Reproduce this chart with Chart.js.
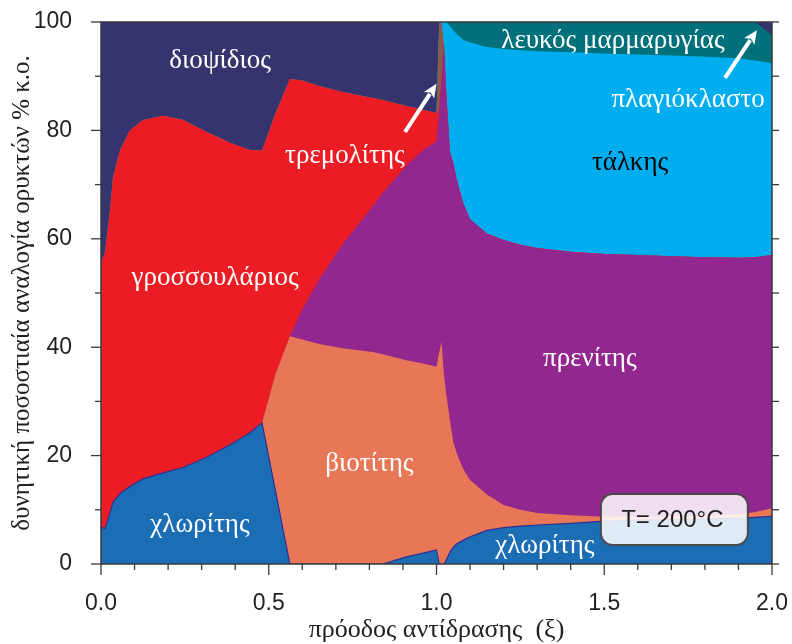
<!DOCTYPE html>
<html>
<head>
<meta charset="utf-8">
<script src="https://cdn.jsdelivr.net/npm/chart.js@4.4.1/dist/chart.umd.min.js"></script>
<style>
  html, body { margin: 0; padding: 0; background: #fff; }
</style>
</head>
<body>
<canvas id="chart" width="792" height="644"></canvas>
<script>
// reaction progress (xi)
const progress = [0, 0.012, 0.027, 0.036, 0.057, 0.086, 0.125, 0.185, 0.245, 0.315, 0.385, 0.444, 0.48, 0.52, 0.563, 0.6, 0.65, 0.72, 0.81, 0.84, 0.91, 0.96, 1.0, 1.008, 1.015, 1.022, 1.03, 1.04, 1.05, 1.06, 1.08, 1.1, 1.15, 1.2, 1.25, 1.3, 1.4, 1.5, 1.6, 1.7, 1.8, 1.9, 1.95, 2.0];

// cumulative upper edge of each mineral band (vol %), bottom to top
const chloriteTop = [6.8, 6.5, 9.5, 11.4, 13.0, 14.3, 15.7, 16.8, 17.8, 19.7, 22.0, 24.2, 26.0, 13.5, 0, 0, 0, 0, 0, 0, 1.3, 2.0, 2.6, 0, 0, 0, 0.8, 2.2, 3.1, 3.7, 4.4, 5.0, 6.2, 6.7, 7.0, 7.2, 7.5, 7.9, 8.1, 8.2, 8.3, 8.4, 8.6, 8.8];
const biotiteTop = [6.8, 6.5, 9.5, 11.4, 13.0, 14.3, 15.7, 16.8, 17.8, 19.7, 22.0, 24.2, 26.0, 35, 42, 41.4, 40.6, 39.8, 39.1, 38.7, 37.6, 37.0, 36.4, 39, 41, 35, 31, 26.5, 22.5, 20.5, 17.5, 15.5, 12.8, 10.9, 10.0, 9.4, 9.0, 8.7, 8.7, 8.8, 8.9, 9.2, 9.6, 10.3];
const prehniteTop = [6.8, 6.5, 9.5, 11.4, 13.0, 14.3, 15.7, 16.8, 17.8, 19.7, 22.0, 24.2, 26.0, 35, 42, 47, 52.5, 59, 66, 68.5, 73.5, 76.4, 78, 84, 89, 96, 86, 76, 74, 71, 66.5, 63.6, 61, 59.8, 58.9, 58.3, 57.6, 57.2, 57.0, 56.8, 56.6, 56.5, 56.6, 57.0];
const grossularTop = [55.5, 57.5, 65.3, 71.4, 76.4, 80, 81.9, 82.7, 81.9, 79.7, 77.7, 76.4, 76.3, 83.1, 89.5, 89.2, 88.2, 87.1, 86.0, 85.6, 84.5, 83.8, 83.2, 84, 89, 96, 86, 76, 74, 71, 66.5, 63.6, 61, 59.8, 58.9, 58.3, 57.6, 57.2, 57.0, 56.8, 56.6, 56.5, 56.6, 57.0];
const tremoliteTop = [55.5, 57.5, 65.3, 71.4, 76.4, 80, 81.9, 82.7, 81.9, 79.7, 77.7, 76.4, 76.3, 83.1, 89.5, 89.2, 88.2, 87.1, 86.0, 85.6, 84.5, 83.8, 83.2, 100, 100, 96, 86, 76, 74, 71, 66.5, 63.6, 61, 59.8, 58.9, 58.3, 57.6, 57.2, 57.0, 56.8, 56.6, 56.5, 56.6, 57.0];
const talcTop = [55.5, 57.5, 65.3, 71.4, 76.4, 80, 81.9, 82.7, 81.9, 79.7, 77.7, 76.4, 76.3, 83.1, 89.5, 89.2, 88.2, 87.1, 86.0, 85.6, 84.5, 83.8, 83.2, 100, 100, 100, 100, 99.2, 98.5, 97.8, 96.7, 96.2, 95.4, 95.0, 94.8, 94.6, 94.4, 94.2, 94.0, 93.8, 93.6, 93.3, 92.9, 92.4];
const muscoviteTop = [55.5, 57.5, 65.3, 71.4, 76.4, 80, 81.9, 82.7, 81.9, 79.7, 77.7, 76.4, 76.3, 83.1, 89.5, 89.2, 88.2, 87.1, 86.0, 85.6, 84.5, 83.8, 83.2, 100, 100, 100, 100, 100, 100, 100, 100, 100, 100, 100, 100, 100, 100, 100, 100, 100, 100, 100, 100, 97.6];
const plagioclaseTop = [55.5, 57.5, 65.3, 71.4, 76.4, 80, 81.9, 82.7, 81.9, 79.7, 77.7, 76.4, 76.3, 83.1, 89.5, 89.2, 88.2, 87.1, 86.0, 85.6, 84.5, 83.8, 83.2, 100, 100, 100, 100, 100, 100, 100, 100, 100, 100, 100, 100, 100, 100, 100, 100, 100, 100, 100, 100, 100];
const diopsideTop = [100, 100, 100, 100, 100, 100, 100, 100, 100, 100, 100, 100, 100, 100, 100, 100, 100, 100, 100, 100, 100, 100, 100, 100, 100, 100, 100, 100, 100, 100, 100, 100, 100, 100, 100, 100, 100, 100, 100, 100, 100, 100, 100, 100];

const xTicks = [0, 0.5, 1.0, 1.5, 2.0];
const yTicks = [0, 20, 40, 60, 80, 100];

const layers = [
  { name: "χλωρίτης", top: chloriteTop, color: "#1b6db4", line: "#2e3192" },
  { name: "βιοτίτης", top: biotiteTop, color: "#e77756" },
  { name: "πρενίτης", top: prehniteTop, color: "#92278f" },
  { name: "γροσσουλάριος", top: grossularTop, color: "#ec1c24" },
  { name: "τρεμολίτης", top: tremoliteTop, color: "#8c5a46" },
  { name: "τάλκης", top: talcTop, color: "#00aeef" },
  { name: "λευκός μαρμαρυγίας", top: muscoviteTop, color: "#00707a" },
  { name: "πλαγιόκλαστο", top: plagioclaseTop, color: "#36346e" },
  { name: "διοψίδιος", top: diopsideTop, color: "#36346e" },
];

// text labels placed in data units
const areaLabels = [
  { text: "διοψίδιος", x: 0.355, y: 93.0, color: "#fff" },
  { text: "τρεμολίτης", x: 0.727, y: 75.5, color: "#fff" },
  { text: "γροσσουλάριος", x: 0.34, y: 53, color: "#fff" },
  { text: "βιοτίτης", x: 0.80, y: 18.6, color: "#fff" },
  { text: "χλωρίτης", x: 0.295, y: 7.4, color: "#fff" },
  { text: "χλωρίτης", x: 1.323, y: 3.5, color: "#fff" },
  { text: "πρενίτης", x: 1.457, y: 38, color: "#fff" },
  { text: "τάλκης", x: 1.577, y: 74.2, color: "#000" },
  { text: "λευκός μαρμαρυγίας", x: 1.526, y: 96.7, color: "#fff" },
  { text: "πλαγιόκλαστο", x: 1.75, y: 85.8, color: "#fff" },
];
const arrows = [
  [0.906, 79.7, 1.0, 88.6],
  [1.86, 89.7, 1.955, 98.5],
];

function drawArrow(ctx, x1, y1, x2, y2) {
  const ang = Math.atan2(y2 - y1, x2 - x1);
  const head = 15;
  ctx.strokeStyle = "#fff";
  ctx.fillStyle = "#fff";
  ctx.lineWidth = 4;
  ctx.beginPath();
  ctx.moveTo(x1, y1);
  ctx.lineTo(x2 - Math.cos(ang) * head * 0.8, y2 - Math.sin(ang) * head * 0.8);
  ctx.stroke();
  ctx.beginPath();
  ctx.moveTo(x2, y2);
  ctx.lineTo(x2 - Math.cos(ang - 0.42) * head, y2 - Math.sin(ang - 0.42) * head);
  ctx.lineTo(x2 - Math.cos(ang) * head * 0.7, y2 - Math.sin(ang) * head * 0.7);
  ctx.lineTo(x2 - Math.cos(ang + 0.42) * head, y2 - Math.sin(ang + 0.42) * head);
  ctx.closePath();
  ctx.fill();
}

function roundRectPath(ctx, x, y, w, h, r) {
  ctx.beginPath();
  ctx.moveTo(x + r, y);
  ctx.arcTo(x + w, y, x + w, y + h, r);
  ctx.arcTo(x + w, y + h, x, y + h, r);
  ctx.arcTo(x, y + h, x, y, r);
  ctx.arcTo(x, y, x + w, y, r);
  ctx.closePath();
}

const overlay = {
  id: "overlay",
  afterDatasetsDraw(chart) {
    const { ctx, chartArea: a, scales: { x, y } } = chart;
    ctx.save();

    // frame
    ctx.strokeStyle = "#3a3a3a";
    ctx.lineWidth = 1.5;
    ctx.strokeRect(a.left, a.top, a.right - a.left, a.bottom - a.top);

    // tick marks
    ctx.lineWidth = 1.3;
    for (let i = 0; i <= 20; i++) {
      const px = x.getPixelForValue(i / 10);
      const len = i % 5 === 0 ? 11 : 6;
      ctx.beginPath(); ctx.moveTo(px, a.bottom); ctx.lineTo(px, a.bottom + len); ctx.stroke();
    }
    for (let i = 0; i <= 10; i++) {
      const py = y.getPixelForValue(i * 10);
      const len = i % 2 === 0 ? 10 : 6;
      ctx.beginPath(); ctx.moveTo(a.left, py); ctx.lineTo(a.left - len, py); ctx.stroke();
      ctx.beginPath(); ctx.moveTo(a.right, py); ctx.lineTo(a.right + 7, py); ctx.stroke();
    }

    // labels
    ctx.font = '27px "Liberation Serif"';
    ctx.textAlign = "center";
    ctx.textBaseline = "middle";
    areaLabels.forEach((l) => {
      ctx.fillStyle = l.color;
      ctx.fillText(l.text, x.getPixelForValue(l.x), y.getPixelForValue(l.y) + 1);
    });

    arrows.forEach((ar) => drawArrow(ctx,
      x.getPixelForValue(ar[0]), y.getPixelForValue(ar[1]),
      x.getPixelForValue(ar[2]), y.getPixelForValue(ar[3])));

    // temperature box
    const bx1 = x.getPixelForValue(1.49), bx2 = x.getPixelForValue(1.928);
    const by1 = y.getPixelForValue(12.9), by2 = y.getPixelForValue(3.5);
    roundRectPath(ctx, bx1, by1, bx2 - bx1, by2 - by1, 12);
    ctx.fillStyle = "rgba(255,255,255,0.86)";
    ctx.fill();
    ctx.strokeStyle = "#4a4a4a";
    ctx.lineWidth = 2;
    ctx.stroke();
    ctx.fillStyle = "#1e1e1e";
    ctx.font = '24px "Liberation Sans"';
    ctx.fillText("T= 200°C", (bx1 + bx2) / 2 - 2, (by1 + by2) / 2 + 1);

    ctx.restore();
  },
};

const datasets = layers.map((l) => ({
  label: l.name,
  data: progress.map((p, j) => ({ x: p, y: l.top[j] })),
  backgroundColor: l.color,
  borderColor: l.line || "rgba(0,0,0,0)",
  borderWidth: l.line ? 1.2 : 0,
  fill: "origin",
  pointRadius: 0,
  tension: 0,
}));

new Chart(document.getElementById("chart"), {
  type: "line",
  data: { datasets },
  options: {
    responsive: false,
    animation: false,
    events: [],
    layout: { padding: { top: 22, right: 20, left: 0, bottom: 0 } },
    plugins: { legend: { display: false }, tooltip: { enabled: false } },
    scales: {
      x: {
        type: "linear",
        min: 0,
        max: 2,
        afterFit: (s) => { s.height = 80; s.paddingLeft = 0; s.paddingRight = 0; },
        afterBuildTicks: (s) => { s.ticks = xTicks.map((v) => ({ value: v })); },
        grid: { display: false },
        border: { display: false },
        ticks: {
          maxRotation: 0,
          autoSkip: false,
          padding: 18,
          color: "#222",
          font: { family: "Liberation Sans", size: 23 },
          callback: (v) => Number(v).toFixed(1),
        },
        title: {
          display: true,
          text: "πρόοδος αντίδρασης  (ξ)",
          color: "#222",
          font: { family: "Liberation Serif", size: 26, lineHeight: 1.0 },
          padding: { top: 0, bottom: 1 },
        },
      },
      y: {
        min: 0,
        max: 100,
        afterFit: (s) => { s.width = 101; s.paddingTop = 0; s.paddingBottom = 0; },
        afterBuildTicks: (s) => { s.ticks = yTicks.map((v) => ({ value: v })); },
        grid: { display: false },
        border: { display: false },
        ticks: {
          padding: 21,
          color: "#222",
          font: { family: "Liberation Sans", size: 23 },
        },
        title: {
          display: true,
          text: "δυνητική ποσοστιαία αναλογία ορυκτών % κ.ο.",
          color: "#222",
          font: { family: "Liberation Serif", size: 25 },
          padding: { top: 7, bottom: 0 },
        },
      },
    },
  },
  plugins: [overlay],
});
</script>
</body>
</html>
